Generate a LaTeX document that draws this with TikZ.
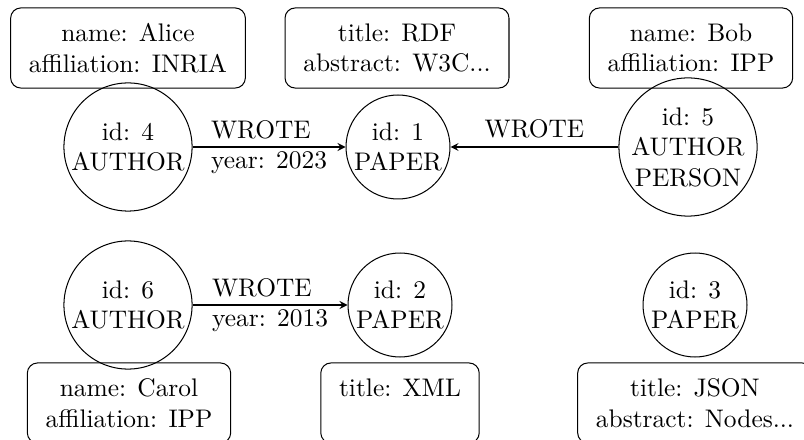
\documentclass[tikz,border=0pt]{standalone}
\usetikzlibrary{arrows}
\begin{document}
\begin{tikzpicture}[x=0.013831cm, y=-0.013831cm,
  gnode/.style={draw, circle, align=center, inner sep=0pt},
  authorc/.style={gnode, minimum size=50.4pt},
  paperc/.style={gnode, minimum size=40.9pt},
  propbox/.style={draw, rounded corners=4pt, align=center, inner xsep=7.2pt, inner ysep=3pt, minimum height=31.5pt},
  rel/.style={draw, -stealth},
  elabel/.style={align=left}]
\useasboundingbox (0,0) rectangle (804,440);
\clip (0,0) rectangle (804,440);
% property boxes
\node[propbox] (b4) at (128,48) {name: Alice\\affiliation: INRIA};
\node[propbox] (b1) at (397,48) {title: RDF\\abstract: W3C...};
\node[propbox] (b5) at (691,48) {name: Bob\\affiliation: IPP};
\node[propbox] (b6) at (129,403) {name: Carol\\affiliation: IPP};
\node[propbox] (b2) at (400,403) {title: XML\\\mbox{}};
\node[propbox] (b3) at (695,403) {title: JSON\\abstract: Nodes...};
% graph nodes
\node[authorc] (n4) at (128,147) {id: 4\\AUTHOR};
\node[paperc] (n1) at (398,147) {id: 1\\PAPER};
\node[gnode] (n5) at (688,147) {id: 5\\AUTHOR\\PERSON};
\node[authorc] (n6) at (128,305) {id: 6\\AUTHOR};
\node[paperc] (n2) at (400,305) {id: 2\\PAPER};
\node[paperc] (n3) at (695,305) {id: 3\\PAPER};
% relationships
\draw[rel] (n4) -- node[elabel] {WROTE\\year: 2023} (n1);
\draw[rel] (n5) -- node[above] {WROTE} (n1);
\draw[rel] (n6) -- node[elabel] {WROTE\\year: 2013} (n2);
\end{tikzpicture}
\end{document}
